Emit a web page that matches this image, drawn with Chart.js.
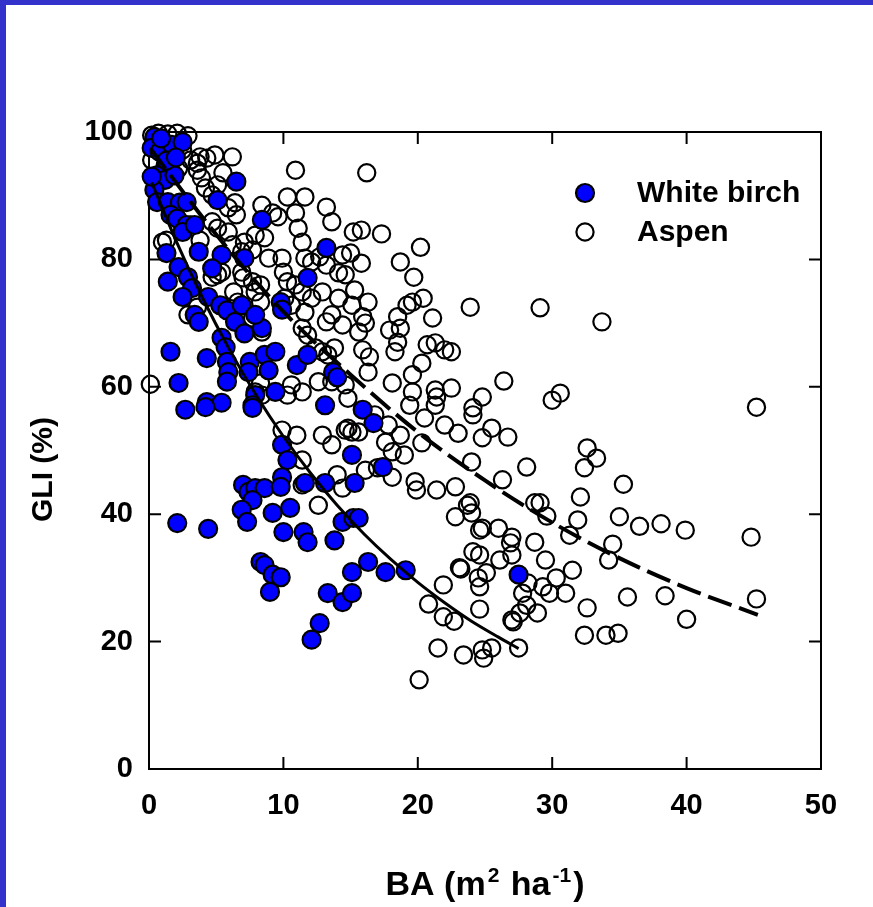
<!DOCTYPE html>
<html>
<head>
<meta charset="utf-8">
<script src="https://cdn.jsdelivr.net/npm/chart.js@4.4.0/dist/chart.umd.min.js"></script>
<style>
html,body{margin:0;padding:0;background:#fff;overflow:hidden}
#wrap{width:873px;height:907px;position:relative}
canvas{display:block}
</style>
</head>
<body>
<div id="wrap"><canvas id="c" width="873" height="907"></canvas></div>
<script>
// ---- tick values ----
const xTicks = [0, 10, 20, 30, 40, 50];
const yTicks = [0, 20, 40, 60, 80, 100];

// ---- series labels / titles ----
const seriesNames = ['White birch', 'Aspen'];
const yTitle = 'GLI (%)';
const xTitleParts = [['BA (m', false], ['2', true], [' ha', false], ['-1', true], [')', false]];

// ---- White birch (filled blue) ----
const birchBA = [
  0.4,0.2,0.8,1.7,2.5,0.6,1.2,1.9,0.4,0.6,
  1.4,2.3,1.6,2.1,2.8,2.5,6.5,5.1,8.4,1.3,
  2.2,1.4,2.9,3.2,2.5,3.4,3.7,4.4,5.3,5.8,
  6.4,6.9,7.1,5.4,5.7,4.3,5.8,5.9,1.6,2.2,
  2.7,4.3,5.4,5.8,7.5,7.4,8.6,8.9,9.4,9.4,
  7.9,7.7,8.4,7.9,9.8,9.9,7.1,5.4,4.7,3.7,
  11.8,13.2,11.0,11.8,13.7,14.0,13.1,4.2,7.7,2.1,
  4.4,9.9,10.3,7.0,7.4,7.9,8.6,7.7,6.9,7.3,
  9.2,9.9,10.5,9.8,10.0,11.6,11.5,11.8,13.1,13.8,
  14.4,15.2,15.1,8.3,8.6,9.2,9.8,9.0,15.1,13.3,
  14.4,15.1,12.7,12.1,15.9,16.7,17.4,15.3,15.6,16.3,
  17.6,19.1,27.5,0.9,1.3,2.0,2.8,3.4,0.2
];
const birchGLI = [
  99.2,97.5,96.9,98.0,98.4,93.2,92.5,93.2,90.9,89.0,
  89.0,88.9,87.0,86.4,85.4,84.3,92.2,89.3,86.2,81.0,
  78.8,76.5,77.2,75.5,74.1,71.3,70.2,74.1,72.8,72.0,
  70.2,72.8,68.4,67.7,66.2,64.5,63.9,62.3,65.5,60.6,
  56.4,57.6,57.5,60.8,63.9,62.3,65.0,62.6,65.5,59.2,
  58.7,57.1,69.2,71.3,73.3,72.1,80.2,80.7,78.6,81.2,
  77.1,81.8,63.4,65.0,62.3,61.5,57.1,56.8,56.7,38.6,
  37.7,50.9,48.5,44.6,43.5,44.1,44.1,42.2,40.7,38.8,
  40.2,45.8,41.0,44.3,37.2,44.9,37.2,35.6,44.9,35.9,
  38.8,39.4,49.3,32.5,32.0,30.5,30.1,27.8,30.9,27.6,
  26.2,27.6,22.9,20.3,56.4,54.3,47.4,44.9,39.4,32.5,
  30.9,31.2,30.5,99.0,95.5,96.0,89.0,85.4,93.0
];

// ---- Aspen (open circles) ----
const aspenBA = [
  0.1,0.2,0.7,1.4,2.1,2.9,0.8,1.7,2.5,0.2,
  1.2,2.2,3.1,3.6,3.8,4.3,4.9,6.2,3.6,3.9,
  4.2,5.5,4.7,5.1,6.4,5.9,6.5,4.7,5.1,5.9,
  1.3,1.0,3.1,3.8,7.1,6.9,6.2,8.6,7.9,7.7,
  9.2,9.6,8.4,8.9,9.9,10.0,11.6,12.1,12.7,10.9,
  10.3,11.6,13.2,13.6,10.9,11.1,11.4,14.4,14.6,14.1,
  13.2,15.2,10.3,10.9,11.4,12.1,12.9,10.1,10.6,11.6,
  14.1,13.6,14.4,13.2,11.4,11.8,12.4,12.9,13.3,13.8,
  8.3,7.9,8.3,7.0,7.7,6.9,5.4,5.1,4.7,6.3,
  6.6,3.6,2.9,7.7,8.4,10.6,11.4,12.6,13.6,14.6,
  14.8,8.3,7.9,8.4,10.3,9.9,11.0,12.9,13.6,14.6,
  15.1,11.4,12.6,14.0,14.4,11.4,
  16.2,15.8,17.3,20.2,15.0,15.8,18.7,19.7,16.3,20.4,
  19.6,19.2,21.1,23.9,29.1,15.9,16.1,15.6,18.5,17.9,
  18.7,18.5,18.3,15.9,16.4,16.3,20.7,21.3,22.0,22.5,
  20.3,19.6,18.1,19.6,21.3,21.4,22.5,19.4,21.3,24.8,
  24.1,26.4,30.0,30.6,33.7,15.1,15.3,
  45.2,32.6,33.3,32.4,35.3,32.1,35.0,36.5,38.1,39.9,
  44.8,31.9,31.3,34.5,34.2,45.2,35.6,38.4,40.0,32.6,
  32.4,34.0,34.9,29.1,29.6,28.1,31.5,31.0,30.3,29.8,
  29.3,28.7,29.5,28.9,27.6,27.1,27.5,25.5,24.8,24.9,
  23.4,21.5,20.1,20.8,21.9,21.9,22.7,23.2,24.6,24.6,
  24.1,24.6,25.1,26.1,27.0,26.9,27.0,26.0,24.6,24.0,
  22.8,23.9,28.7,27.8,28.2,
  20.5,22.0,23.0,20.3,24.1,25.5,26.7,24.8,24.0,26.3,
  19.8,19.9,21.4,22.8,23.7,24.8,23.1,24.5,27.0,28.1,
  15.6,14.8,16.1,17.0,18.1,17.6,18.1,16.8,17.8,18.7,19.0
];
const aspenGLI = [
  60.4,99.5,99.8,99.7,99.8,99.4,98.4,97.5,97.2,95.6,
  94.7,94.3,95.6,95.1,96.1,95.9,96.4,96.1,94.0,92.8,
  91.2,93.6,90.1,91.7,88.9,88.1,87.0,85.9,84.9,84.3,
  83.0,82.7,85.4,83.0,82.7,81.2,82.3,83.4,83.8,81.5,
  87.3,86.7,88.5,80.2,80.2,78.0,80.2,79.6,80.4,94.0,
  89.8,89.8,88.2,85.9,87.3,84.9,82.7,80.7,77.6,77.9,
  79.1,84.3,76.5,76.0,74.9,73.9,74.9,73.9,72.8,71.7,
  73.9,71.3,69.7,70.2,69.2,68.1,66.1,65.5,65.0,66.1,
  76.0,74.9,73.3,77.1,76.5,78.0,78.0,77.6,77.2,74.9,
  73.3,72.5,71.3,70.8,68.6,60.3,59.2,60.8,60.8,60.3,
  58.2,60.6,59.2,58.7,58.7,53.2,52.4,52.4,50.9,53.2,
  52.9,48.5,41.4,46.2,44.1,44.6,
  93.6,84.6,84.0,81.9,81.0,79.4,79.6,77.2,73.3,73.9,
  73.3,72.8,70.8,72.5,72.4,71.0,70.0,68.6,71.0,68.9,
  69.2,67.0,65.5,65.8,64.7,62.3,66.6,66.9,65.8,65.5,
  63.7,61.9,60.6,59.2,59.5,58.4,59.8,57.1,57.1,58.4,
  56.7,60.9,57.9,59.0,70.2,72.8,75.2,
  56.8,50.4,48.8,47.3,44.7,42.7,39.6,38.1,38.5,37.5,
  36.4,39.1,36.7,35.3,32.8,26.7,27.0,27.2,23.5,25.3,
  21.0,21.0,21.3,41.8,39.7,47.4,31.2,27.6,30.0,27.6,
  28.6,35.6,32.8,24.5,24.5,23.1,19.0,19.0,18.7,17.4,
  17.9,19.0,14.0,25.9,28.9,23.9,23.2,31.4,28.6,25.1,
  34.1,33.6,30.8,32.8,33.6,35.5,36.4,37.8,37.5,40.2,
  39.6,41.8,41.8,27.6,29.2,
  55.1,54.0,52.7,51.2,55.6,53.5,52.1,52.0,48.2,45.4,
  45.1,43.8,43.8,44.3,41.4,37.8,31.6,30.0,23.4,25.7,
  52.9,53.5,46.9,47.3,45.8,51.3,49.8,55.6,54.0,52.4,49.3
];

// ---- fitted curves ----
const birchFitBA  = [0.2, 2, 4, 6, 8, 10, 12, 14, 16, 18, 20, 22, 24, 26, 27.5];
const birchFitGLI = [92.1, 83.0, 73.9, 65.8, 58.6, 52.2, 46.5, 41.4, 36.9, 32.9, 29.3, 26.1, 23.2, 20.7, 18.9];
const aspenFitBA  = [0.1, 5, 10, 15, 20, 25, 30, 35, 40, 45.3];
const aspenFitGLI = [97.4, 83.9, 71.8, 61.9, 52.9, 45.3, 38.7, 33.1, 28.4, 24.2];

const pts = (xs, ys) => xs.map((v, i) => ({ x: v, y: ys[i] }));

const FONT = '"Liberation Sans", Arial, Helvetica, sans-serif';
const BLUE = '#0000ff';

const decorPlugin = {
  id: 'decor',
  beforeDraw(chart) {
    const ctx = chart.ctx;
    ctx.save();
    ctx.fillStyle = '#ffffff';
    ctx.fillRect(0, 0, chart.width, chart.height);
    ctx.fillStyle = '#3333cc';
    ctx.fillRect(0, 0, chart.width, 5);
    ctx.fillRect(0, 0, 6, chart.height);
    ctx.restore();
  },
  beforeDatasetsDraw(chart) {
    const { ctx, chartArea: a, scales } = chart;
    const xs = scales.x, ys = scales.y;
    const L = 12;
    ctx.save();
    ctx.strokeStyle = '#000';
    ctx.lineWidth = 2;
    ctx.strokeRect(a.left, a.top, a.right - a.left, a.bottom - a.top);
    ctx.beginPath();
    xTicks.forEach(v => {
      const p = xs.getPixelForValue(v);
      ctx.moveTo(p, a.bottom); ctx.lineTo(p, a.bottom - L);
      ctx.moveTo(p, a.top); ctx.lineTo(p, a.top + L);
    });
    yTicks.forEach(v => {
      const p = ys.getPixelForValue(v);
      ctx.moveTo(a.left, p); ctx.lineTo(a.left + L, p);
      ctx.moveTo(a.right, p); ctx.lineTo(a.right - L, p);
    });
    ctx.stroke();
    ctx.restore();
  },
  afterDraw(chart) {
    const { ctx, chartArea: a } = chart;
    ctx.save();
    ctx.fillStyle = '#000';
    // x title with superscripts
    const big = 'bold 34px ' + FONT, small = 'bold 21px ' + FONT;
    const gap = 2;
    let total = 0;
    xTitleParts.forEach(([t, sup]) => { ctx.font = sup ? small : big; total += ctx.measureText(t).width + (sup ? 2 * gap : 0); });
    let cx = (a.left + a.right) / 2 - total / 2;
    const base = 895;
    ctx.textBaseline = 'alphabetic';
    ctx.textAlign = 'left';
    xTitleParts.forEach(([t, sup]) => {
      ctx.font = sup ? small : big;
      if (sup) cx += gap;
      ctx.fillText(t, cx, sup ? base - 13 : base);
      cx += ctx.measureText(t).width + (sup ? gap : 0);
    });
    // y title
    ctx.save();
    ctx.translate(52, (a.top + a.bottom) / 2 + 19);
    ctx.rotate(-Math.PI / 2);
    ctx.font = 'bold 30px ' + FONT;
    ctx.textAlign = 'center';
    ctx.textBaseline = 'alphabetic';
    ctx.fillText(yTitle, 0, 0);
    ctx.restore();
    // legend
    const ds = chart.data.datasets;
    const lx = a.left + 436, ly0 = a.top + 61, dy = 39;
    [ds[2], ds[3]].forEach((d, i) => {
      const y = ly0 + i * dy;
      ctx.beginPath();
      ctx.arc(lx, y, d.pointRadius, 0, Math.PI * 2);
      if (d.backgroundColor !== 'rgba(0,0,0,0)') { ctx.fillStyle = d.backgroundColor; ctx.fill(); }
      ctx.lineWidth = d.borderWidth;
      ctx.strokeStyle = d.borderColor;
      ctx.stroke();
      ctx.fillStyle = '#000';
      ctx.font = 'bold 30px ' + FONT;
      ctx.textAlign = 'left';
      ctx.textBaseline = 'middle';
      ctx.fillText(d.label, a.left + 488, y + 1);
    });
    ctx.restore();
  }
};

const tickFont = { family: FONT, size: 29, weight: 'bold' };

new Chart(document.getElementById('c'), {
  type: 'scatter',
  data: {
    datasets: [
      { label: 'birch fit', data: pts(birchFitBA, birchFitGLI), showLine: true, borderColor: '#000', borderWidth: 3,
        pointRadius: 0, cubicInterpolationMode: 'monotone', fill: false, order: 0 },
      { label: 'aspen fit', data: pts(aspenFitBA, aspenFitGLI), showLine: true, borderColor: '#000', borderWidth: 4,
        borderDash: [25, 8], pointRadius: 0, cubicInterpolationMode: 'monotone', fill: false, order: 1 },
      { label: seriesNames[0], data: pts(birchBA, birchGLI), backgroundColor: BLUE, borderColor: '#000',
        borderWidth: 2.2, pointRadius: 9, pointHoverRadius: 9, order: 2, clip: false },
      { label: seriesNames[1], data: pts(aspenBA, aspenGLI), backgroundColor: 'rgba(0,0,0,0)', borderColor: '#000',
        borderWidth: 2.2, pointRadius: 8.6, pointHoverRadius: 8.6, order: 3, clip: false }
    ]
  },
  options: {
    responsive: false,
    devicePixelRatio: 1,
    animation: false,
    layout: { padding: { top: 132, right: 52, left: 0, bottom: 0 } },
    plugins: { legend: { display: false }, tooltip: { enabled: false }, title: { display: false } },
    events: [],
    scales: {
      x: {
        type: 'linear', min: 0, max: 50,
        afterBuildTicks: s => { s.ticks = xTicks.map(v => ({ value: v })); },
        ticks: { font: tickFont, color: '#000', padding: 20, maxRotation: 0, autoSkip: false },
        grid: { display: false, drawTicks: false, tickLength: 0 },
        border: { display: false },
        afterFit: s => { s.height = 138; }
      },
      y: {
        type: 'linear', min: 0, max: 100,
        afterBuildTicks: s => { s.ticks = yTicks.map(v => ({ value: v })); },
        ticks: { font: tickFont, color: '#000', padding: 16, autoSkip: false },
        grid: { display: false, drawTicks: false, tickLength: 0 },
        border: { display: false },
        afterFit: s => { s.width = 149; }
      }
    }
  },
  plugins: [decorPlugin]
});
</script>
</body>
</html>
